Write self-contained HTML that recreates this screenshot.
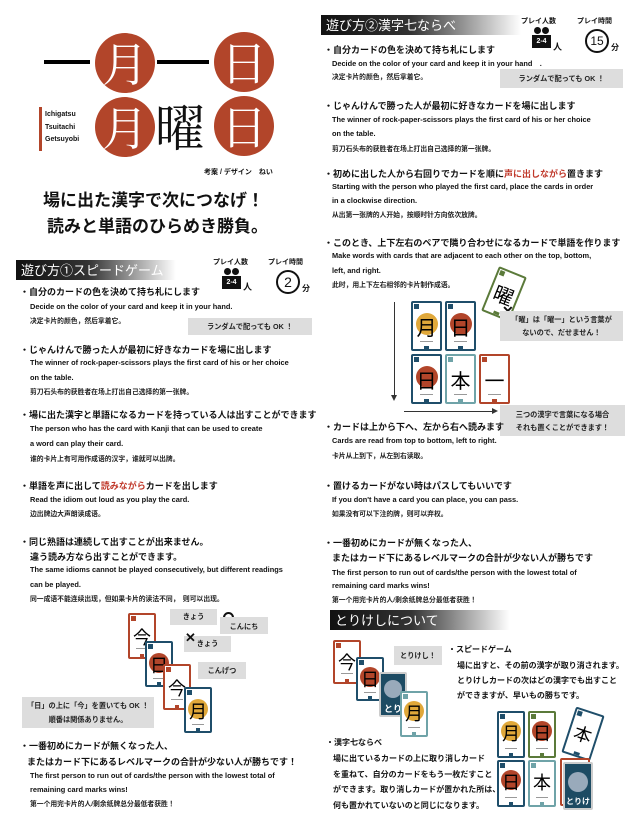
<!DOCTYPE html>
<html><head><meta charset="utf-8">
<style>
*{margin:0;padding:0;box-sizing:border-box}
body{width:633px;height:816px;background:#fff;position:relative;overflow:hidden;font-family:"Liberation Sans","Noto Sans CJK JP",sans-serif;color:#111}
.a{position:absolute;white-space:nowrap}
.j{font-size:9px;font-weight:bold}
.e{font-size:7.4px;font-weight:bold}
.z{font-size:6.8px;font-weight:bold;color:#222}
.hd{position:absolute;height:20px;background:linear-gradient(90deg,#111 0%,#333 45%,#fff 100%);color:#fff;font-size:13px;padding-left:5px;line-height:20px;font-family:"Noto Sans CJK JP",sans-serif}
.bub{position:absolute;background:#ddd;font-size:7.2px;text-align:center;color:#222;font-weight:bold}
.circ{position:absolute;border-radius:50%;background:#b2452a;color:#fff;text-align:center;font-family:"Noto Serif CJK SC",serif}
.card{position:absolute;border:2px solid #b2452a;border-radius:2px;background:#fff;overflow:hidden}
.card .k{position:absolute;left:0;right:0;text-align:center;font-family:"Noto Sans CJK JP",sans-serif;color:#000}
.card .m{position:absolute;left:1px;top:1px;width:5px;height:5px;background:currentColor}
.card .dot{position:absolute;left:50%;border-radius:50%}
.card .b{position:absolute;bottom:0;left:40%;width:20%;height:3px;background:currentColor}
.card .s{position:absolute;left:25%;width:50%;height:1px;background:#999}
.R{border-color:#b2452a;color:#b2452a}.B{border-color:#1f4e6a;color:#1f4e6a}.T{border-color:#6fa3a8;color:#6fa3a8}.G{border-color:#5b7a3a;color:#5b7a3a}
.dark{background:#1d4b63!important}
</style></head><body>

<!-- logo -->
<div class="a" style="left:44px;top:60px;width:46px;height:4px;background:#000"></div>
<div class="a" style="left:157px;top:60px;width:52px;height:4px;background:#000"></div>
<div class="circ" style="left:95px;top:33px;width:60px;height:60px;font-size:46px;line-height:58px">月</div>
<div class="circ" style="left:214px;top:32px;width:60px;height:60px;font-size:46px;line-height:58px">日</div>
<div class="circ" style="left:95px;top:97px;width:60px;height:60px;font-size:46px;line-height:58px">月</div>
<div class="circ" style="left:214px;top:96px;width:60px;height:60px;font-size:46px;line-height:58px">日</div>
<div class="a" style="left:155px;top:97px;font-size:50px;line-height:56px;font-family:'Noto Serif CJK SC',serif">曜</div>
<div class="a" style="left:39px;top:107px;width:3px;height:44px;background:#b2452a"></div>
<div class="a" style="left:45px;top:109px;font-size:7px;font-weight:bold;line-height:12.5px">Ichigatsu<br>Tsuitachi<br>Getsuyobi</div>
<div class="a" style="left:204px;top:167px;font-size:7px;font-weight:bold">考案 / デザイン　ねい</div>
<div class="a" style="left:43px;top:186px;font-size:17px;font-weight:bold">場に出た漢字で次につなげ！</div>
<div class="a" style="left:47px;top:212px;font-size:17px;font-weight:bold">読みと単語のひらめき勝負。</div>

<!-- section 1 -->
<div class="hd" style="left:16px;top:260px;width:160px">遊び方①スピードゲーム</div>
<div class="a" style="left:213px;top:257px;font-size:7px;font-weight:bold">プレイ人数</div>
<div class="a" style="left:224px;top:268px;width:7px;height:7px;border-radius:50%;background:#111"></div>
<div class="a" style="left:232px;top:268px;width:7px;height:7px;border-radius:50%;background:#111"></div>
<div class="a" style="left:222px;top:276px;width:19px;height:13px;background:#111;color:#fff;font-size:7px;font-weight:bold;text-align:center;line-height:13px">2-4</div>
<div class="a" style="left:243px;top:280px;font-size:9px;font-weight:bold">人</div>
<div class="a" style="left:268px;top:257px;font-size:7px;font-weight:bold">プレイ時間</div>
<div class="a" style="left:276px;top:270px;width:24px;height:24px;border:2px solid #111;border-radius:50%;font-size:14px;text-align:center;line-height:20px">2</div>
<div class="a" style="left:302px;top:283px;font-size:8px;font-weight:bold">分</div>

<div class="a j" style="left:20px;top:285px">・自分のカードの色を決めて持ち札にします</div>
<div class="a e" style="left:30px;top:302px">Decide on the color of your card and keep it in your hand.</div>
<div class="a z" style="left:30px;top:315px">决定卡片的颜色，然后拿着它。</div>
<div class="bub" style="left:188px;top:318px;width:124px;height:17px;line-height:17px">ランダムで配っても OK ！</div>

<div class="a j" style="left:20px;top:343px">・じゃんけんで勝った人が最初に好きなカードを場に出します</div>
<div class="a e" style="left:30px;top:358px">The winner of rock-paper-scissors plays the first card of his or her choice</div>
<div class="a e" style="left:30px;top:373px">on the table.</div>
<div class="a z" style="left:30px;top:386px">剪刀石头布的获胜者在场上打出自己选择的第一张牌。</div>

<div class="a j" style="left:20px;top:408px">・場に出た漢字と単語になるカードを持っている人は出すことができます</div>
<div class="a e" style="left:30px;top:424px">The person who has the card with Kanji that can be used to create</div>
<div class="a e" style="left:30px;top:439px">a word can play their card.</div>
<div class="a z" style="left:30px;top:453px">谁的卡片上有可用作成语的汉字，谁就可以出牌。</div>

<div class="a j" style="left:20px;top:479px">・単語を声に出して<span style="color:#c0392b">読みながら</span>カードを出します</div>
<div class="a e" style="left:30px;top:495px">Read the idiom out loud as you play the card.</div>
<div class="a z" style="left:30px;top:508px">边出牌边大声朗读成语。</div>

<div class="a j" style="left:20px;top:535px">・同じ熟語は連続して出すことが出来ません。</div>
<div class="a j" style="left:30px;top:550px">違う読み方なら出すことができます。</div>
<div class="a e" style="left:30px;top:565px">The same idioms cannot be played consecutively, but different readings</div>
<div class="a e" style="left:30px;top:580px">can be played.</div>
<div class="a z" style="left:30px;top:593px">同一成语不能连续出现，但如果卡片的读法不同，　则可以出现。</div>

<!-- cards diagram left -->
<div class="bub" style="left:170px;top:609px;width:47px;height:16px;line-height:16px">きょう</div>
<div class="a" style="left:223px;top:612px;width:11px;height:11px;border:2px solid #111;border-radius:50%"></div>
<div class="bub" style="left:220px;top:617px;width:48px;height:17px;line-height:19px">こんにち</div>
<div class="bub" style="left:184px;top:636px;width:47px;height:16px;line-height:16px">きょう</div>
<div class="a" style="left:185px;top:630px;font-size:13px;font-weight:bold">✕</div>
<div class="bub" style="left:198px;top:662px;width:48px;height:17px;line-height:17px">こんげつ</div>
<div class="bub" style="left:22px;top:697px;width:132px;height:31px;line-height:14px;padding-top:2px">「日」の上に「今」を置いても OK ！<br>順番は関係ありません。</div>

<div class="card R" style="left:128px;top:613px;width:28px;height:46px"><div class="m"></div><div class="k" style="top:9px;font-size:18px">今</div><div class="s" style="top:33px"></div><div class="b"></div></div>
<div class="card B" style="left:145px;top:641px;width:28px;height:46px"><div class="m"></div><div class="dot" style="top:10px;margin-left:-10px;width:20px;height:20px;background:#b2452a"></div><div class="k" style="top:9px;font-size:18px">日</div><div class="s" style="top:35px"></div><div class="b"></div></div>
<div class="card R" style="left:163px;top:664px;width:28px;height:46px"><div class="m"></div><div class="k" style="top:9px;font-size:18px">今</div><div class="s" style="top:33px"></div><div class="b"></div></div>
<div class="card B" style="left:184px;top:687px;width:28px;height:46px"><div class="m"></div><div class="dot" style="top:10px;margin-left:-10px;width:20px;height:20px;background:#e0a83a"></div><div class="k" style="top:9px;font-size:18px">月</div><div class="s" style="top:35px"></div><div class="b"></div></div>

<div class="a j" style="left:20px;top:739px">・一番初めにカードが無くなった人、</div>
<div class="a j" style="left:27px;top:755px">またはカード下にあるレベルマークの合計が少ない人が勝ちです！</div>
<div class="a e" style="left:30px;top:771px">The first person to run out of cards/the person with the lowest total of</div>
<div class="a e" style="left:30px;top:785px">remaining card marks wins!</div>
<div class="a z" style="left:30px;top:798px">第一个用完卡片的人/剩余纸牌总分最低者获胜！</div>

<!-- section 2 -->
<div class="hd" style="left:321px;top:15px;width:200px">遊び方②漢字七ならべ</div>
<div class="a" style="left:521px;top:16px;font-size:7px;font-weight:bold">プレイ人数</div>
<div class="a" style="left:534px;top:27px;width:7px;height:7px;border-radius:50%;background:#111"></div>
<div class="a" style="left:542px;top:27px;width:7px;height:7px;border-radius:50%;background:#111"></div>
<div class="a" style="left:532px;top:35px;width:19px;height:13px;background:#111;color:#fff;font-size:7px;font-weight:bold;text-align:center;line-height:13px">2-4</div>
<div class="a" style="left:553px;top:40px;font-size:9px;font-weight:bold">人</div>
<div class="a" style="left:577px;top:16px;font-size:7px;font-weight:bold">プレイ時間</div>
<div class="a" style="left:585px;top:29px;width:24px;height:24px;border:2px solid #111;border-radius:50%;font-size:12px;text-align:center;line-height:20px">15</div>
<div class="a" style="left:611px;top:42px;font-size:8px;font-weight:bold">分</div>

<div class="a j" style="left:324px;top:43px">・自分カードの色を決めて持ち札にします</div>
<div class="a e" style="left:332px;top:58px">Decide on the color of your card and keep it in your hand　.</div>
<div class="a z" style="left:332px;top:71px">决定卡片的颜色，然后拿着它。</div>
<div class="bub" style="left:500px;top:69px;width:123px;height:19px;line-height:19px">ランダムで配っても OK ！</div>

<div class="a j" style="left:324px;top:99px">・じゃんけんで勝った人が最初に好きなカードを場に出します</div>
<div class="a e" style="left:332px;top:115px">The winner of rock-paper-scissors plays the first card of his or her choice</div>
<div class="a e" style="left:332px;top:129px">on the table.</div>
<div class="a z" style="left:332px;top:143px">剪刀石头布的获胜者在场上打出自己选择的第一张牌。</div>

<div class="a j" style="left:324px;top:167px">・初めに出した人から右回りでカードを順に<span style="color:#c0392b">声に出しながら</span>置きます</div>
<div class="a e" style="left:332px;top:182px">Starting with the person who played the first card, place the cards in order</div>
<div class="a e" style="left:332px;top:196px">in a clockwise direction.</div>
<div class="a z" style="left:332px;top:209px">从出第一张牌的人开始，按顺时针方向依次放牌。</div>

<div class="a j" style="left:324px;top:236px">・このとき、上下左右のペアで隣り合わせになるカードで単語を作ります</div>
<div class="a e" style="left:332px;top:251px">Make words with cards that are adjacent to each other on the top, bottom,</div>
<div class="a e" style="left:332px;top:266px">left, and right.</div>
<div class="a z" style="left:332px;top:279px">此时，用上下左右相邻的卡片制作成语。</div>

<!-- grid -->
<div class="a" style="left:394px;top:302px;width:1px;height:96px;background:#333"></div>
<div class="a" style="left:391px;top:395px;width:0;height:0;border-left:3px solid transparent;border-right:3px solid transparent;border-top:6px solid #333"></div>
<div class="a" style="left:404px;top:411px;width:90px;height:1px;background:#333"></div>
<div class="a" style="left:492px;top:408px;width:0;height:0;border-top:3px solid transparent;border-bottom:3px solid transparent;border-left:6px solid #333"></div>

<div class="card G" style="left:489px;top:270px;width:30px;height:48px;transform:rotate(22deg)"><div class="m"></div><div class="k" style="top:8px;font-size:20px">曜</div><div class="b"></div></div>
<div class="a" style="left:502px;top:303px;font-size:14px;font-weight:bold">✕</div>

<div class="card B" style="left:411px;top:301px;width:31px;height:50px"><div class="m"></div><div class="dot" style="top:10px;margin-left:-11px;width:22px;height:22px;background:#e0a83a"></div><div class="k" style="top:9px;font-size:20px">月</div><div class="s" style="top:38px"></div><div class="b"></div></div>
<div class="card B" style="left:445px;top:301px;width:31px;height:50px"><div class="m"></div><div class="dot" style="top:10px;margin-left:-11px;width:22px;height:22px;background:#b2452a"></div><div class="k" style="top:9px;font-size:20px">日</div><div class="s" style="top:38px"></div><div class="b"></div></div>
<div class="card B" style="left:411px;top:354px;width:31px;height:50px"><div class="m"></div><div class="dot" style="top:10px;margin-left:-11px;width:22px;height:22px;background:#b2452a"></div><div class="k" style="top:9px;font-size:20px">日</div><div class="s" style="top:38px"></div><div class="b"></div></div>
<div class="card T" style="left:445px;top:354px;width:31px;height:50px"><div class="m"></div><div class="k" style="top:9px;font-size:20px">本</div><div class="s" style="top:38px"></div><div class="b"></div></div>
<div class="card R" style="left:479px;top:354px;width:31px;height:50px"><div class="m"></div><div class="k" style="top:9px;font-size:20px">一</div><div class="s" style="top:38px"></div><div class="b"></div></div>

<div class="bub" style="left:500px;top:311px;width:123px;height:30px;line-height:13px;padding-top:2px">「曜」は「曜一」という言葉が<br>ないので、だせません！</div>
<div class="bub" style="left:500px;top:405px;width:125px;height:31px;line-height:13px;padding-top:3px">三つの漢字で言葉になる場合<br>それも置くことができます！</div>

<div class="a j" style="left:324px;top:420px">・カードは上から下へ、左から右へ読みます</div>
<div class="a e" style="left:332px;top:436px">Cards are read from top to bottom, left to right.</div>
<div class="a z" style="left:332px;top:450px">卡片从上到下，从左到右读取。</div>

<div class="a j" style="left:324px;top:479px">・置けるカードがない時はパスしてもいいです</div>
<div class="a e" style="left:332px;top:495px">If you don't have a card you can place, you can pass.</div>
<div class="a z" style="left:332px;top:508px">如果没有可以下注的牌，则可以弃权。</div>

<div class="a j" style="left:324px;top:536px">・一番初めにカードが無くなった人、</div>
<div class="a j" style="left:332px;top:551px">またはカード下にあるレベルマークの合計が少ない人が勝ちです</div>
<div class="a e" style="left:332px;top:568px">The first person to run out of cards/the person with the lowest total of</div>
<div class="a e" style="left:332px;top:581px">remaining card marks wins!</div>
<div class="a z" style="left:332px;top:594px">第一个用完卡片的人/剩余纸牌总分最低者获胜！</div>

<!-- section 3 -->
<div class="hd" style="left:330px;top:610px;width:180px">とりけしについて</div>

<div class="card R" style="left:333px;top:640px;width:28px;height:44px"><div class="m"></div><div class="k" style="top:7px;font-size:18px">今</div><div class="s" style="top:31px"></div><div class="b"></div></div>
<div class="card B" style="left:356px;top:657px;width:28px;height:44px"><div class="m"></div><div class="dot" style="top:8px;margin-left:-10px;width:20px;height:20px;background:#b2452a"></div><div class="k" style="top:7px;font-size:18px">日</div><div class="s" style="top:33px"></div><div class="b"></div></div>
<div class="card B dark" style="left:379px;top:672px;width:28px;height:45px;border-color:#ccc"><div class="dot" style="top:6px;margin-left:-9px;width:18px;height:18px;background:#9ab"></div><div class="k" style="top:28px;font-size:9px;color:#fff;font-weight:bold">とりけ</div></div>
<div class="card T" style="left:400px;top:691px;width:28px;height:46px"><div class="m"></div><div class="dot" style="top:8px;margin-left:-10px;width:20px;height:20px;background:#e0a83a"></div><div class="k" style="top:7px;font-size:18px">月</div><div class="s" style="top:34px"></div><div class="b"></div></div>
<div class="bub" style="left:394px;top:646px;width:48px;height:19px;line-height:19px">とりけし！</div>

<div class="a j" style="left:448px;top:644px;font-size:8px">・スピードゲーム</div>
<div class="a j" style="left:457px;top:658px;font-size:8px;line-height:15px">場に出すと、その前の漢字が取り消されます。<br>とりけしカードの次はどの漢字でも出すこと<br>ができますが、早いもの勝ちです。</div>

<div class="a j" style="left:326px;top:737px;font-size:8px">・漢字七ならべ</div>
<div class="a j" style="left:333px;top:751px;font-size:8px;line-height:15.5px">場に出ているカードの上に取り消しカード<br>を重ねて、自分のカードをもう一枚だすこと<br>ができます。取り消しカードが置かれた所は、<br>何も置かれていないのと同じになります。</div>

<div class="card B" style="left:497px;top:711px;width:28px;height:47px"><div class="m"></div><div class="dot" style="top:8px;margin-left:-10px;width:20px;height:20px;background:#e0a83a"></div><div class="k" style="top:7px;font-size:18px">月</div><div class="s" style="top:35px"></div><div class="b"></div></div>
<div class="card G" style="left:528px;top:711px;width:28px;height:47px"><div class="m"></div><div class="dot" style="top:8px;margin-left:-10px;width:20px;height:20px;background:#b2452a"></div><div class="k" style="top:7px;font-size:18px">日</div><div class="s" style="top:35px"></div><div class="b"></div></div>
<div class="card B" style="left:568px;top:710px;width:30px;height:48px;transform:rotate(18deg)"><div class="m"></div><div class="k" style="top:9px;font-size:18px">本</div><div class="b"></div></div>
<div class="card B" style="left:497px;top:760px;width:28px;height:47px"><div class="m"></div><div class="dot" style="top:8px;margin-left:-10px;width:20px;height:20px;background:#b2452a"></div><div class="k" style="top:7px;font-size:18px">日</div><div class="s" style="top:35px"></div><div class="b"></div></div>
<div class="card T" style="left:528px;top:760px;width:28px;height:47px"><div class="m"></div><div class="k" style="top:7px;font-size:18px">本</div><div class="s" style="top:35px"></div><div class="b"></div></div>
<div class="card R" style="left:560px;top:758px;width:30px;height:48px"></div>
<div class="card B dark" style="left:563px;top:762px;width:30px;height:48px;border-color:#ccc"><div class="dot" style="top:8px;margin-left:-10px;width:20px;height:20px;background:#9ab"></div><div class="k" style="top:32px;font-size:8px;color:#fff;font-weight:bold">とりけし</div></div>

</body></html>
